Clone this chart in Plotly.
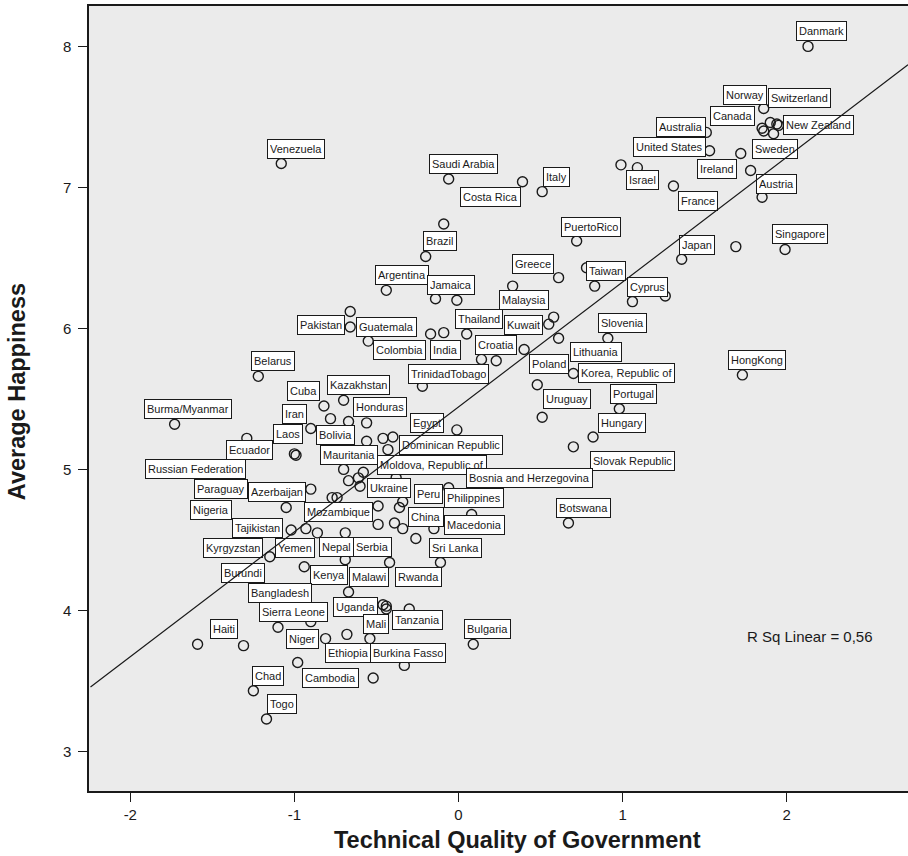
import plotly.graph_objects as go

# ---------------- data ----------------
countries = [
    "Danmark", "Norway", "Switzerland", "Canada", "New Zealand", "Australia",
    "United States", "Sweden", "Ireland", "Austria", "Israel", "France", "Japan",
    "Singapore", "HongKong", "Venezuela", "Saudi Arabia", "Costa Rica", "Italy",
    "Brazil", "PuertoRico", "Greece", "Taiwan", "Argentina", "Jamaica", "Malaysia",
    "Kuwait", "Cyprus", "Thailand", "Colombia", "India", "Slovenia", "Croatia",
    "Lithuania", "Korea, Republic of", "Poland", "Portugal", "Uruguay", "Hungary",
    "Slovak Republic", "Botswana", "Bulgaria", "TrinidadTobago", "Pakistan",
    "Guatemala", "Belarus", "Burma/Myanmar", "Cuba", "Kazakhstan", "Honduras",
    "Iran", "Laos", "Bolivia", "Egypt", "Dominican Republic", "Ecuador",
    "Mauritania", "Moldova, Republic of", "Russian Federation", "Ukraine", "Peru",
    "Philippines", "Bosnia and Herzegovina", "China", "Macedonia", "Sri Lanka",
    "Paraguay", "Azerbaijan", "Nigeria", "Tajikistan", "Mozambique", "Kyrgyzstan",
    "Yemen", "Nepal", "Serbia", "Kenya", "Malawi", "Rwanda", "Burundi",
    "Bangladesh", "Sierra Leone", "Uganda", "Tanzania", "Mali", "Haiti", "Niger",
    "Ethiopia", "Burkina Fasso", "Chad", "Cambodia", "Togo",
]
quality = [
    2.13, 1.86, 1.90, 1.85, 1.95, 1.51,
    1.53, 1.92, 1.72, 1.78, 1.09, 1.31, 1.36,
    1.99, 1.73, -1.08, -0.06, 0.39, 0.51,
    -0.20, 0.72, 0.61, 0.83, -0.44, -0.14, 0.58,
    0.55, 1.06, 0.05, -0.17, -0.09, 0.91, 0.14,
    0.61, 0.70, 0.48, 0.98, 0.51, 0.82,
    0.70, 0.67, 0.09, -0.22, -0.66,
    -0.55, -1.22, -1.73, -0.82, -0.70, -0.56,
    -0.90, -1.00, -0.78, -0.40, -0.01, -1.29,
    -0.70, -0.38, -0.99, -0.49, -0.34,
    -0.06, 0.08, -0.34, -0.15, -0.11,
    -1.05, -0.90, -1.02, -0.93, -0.86, -1.15,
    -0.69, -0.69, -0.42, -0.94, -0.67, -0.26, -1.31,
    -0.90, -1.10, -0.46, -0.30, -0.44, -1.59, -0.81,
    -0.68, -0.33, -1.25, -0.98, -1.17,
]
happiness = [
    8.00, 7.56, 7.46, 7.42, 7.44, 7.39,
    7.26, 7.38, 7.24, 7.12, 7.14, 7.01, 6.49,
    6.56, 5.67, 7.17, 7.06, 7.04, 6.97,
    6.51, 6.62, 6.36, 6.30, 6.27, 6.21, 6.08,
    6.03, 6.19, 5.96, 5.96, 5.97, 5.93, 5.78,
    5.93, 5.68, 5.60, 5.43, 5.37, 5.23,
    5.16, 4.62, 3.76, 5.59, 6.01,
    5.91, 5.66, 5.32, 5.45, 5.49, 5.33,
    5.29, 5.11, 5.36, 5.23, 5.28, 5.22,
    5.00, 4.94, 5.10, 4.74, 4.77,
    4.87, 4.68, 4.58, 4.58, 4.34,
    4.73, 4.86, 4.57, 4.58, 4.55, 4.38,
    4.55, 4.36, 4.34, 4.31, 4.13, 4.51, 3.75,
    3.92, 3.88, 4.04, 4.01, 4.01, 3.76, 3.80,
    3.83, 3.61, 3.43, 3.63, 3.23,
]
# points whose labels are hidden or absent in the picture
other_quality = [
    1.86, 1.94, 1.85, 0.99, 1.69, -0.09, 0.78, 0.33, -0.01, 1.26,
    0.23, 0.40, -0.66, -0.67, -0.56, -0.46, -0.43, -0.58, -0.67, -0.61,
    -0.60, -0.77, -0.74, -0.36, -0.49, -0.39, -0.44, -0.54, -0.52,
]
other_happiness = [
    7.40, 7.45, 6.93, 7.16, 6.58, 6.74, 6.43, 6.30, 6.20, 6.23,
    5.77, 5.85, 6.12, 5.34, 5.20, 5.22, 5.14, 4.98, 4.92, 4.94,
    4.88, 4.80, 4.80, 4.73, 4.61, 4.62, 4.03, 3.80, 3.52,
]

# linear fit as printed on the chart
FIT_INTERCEPT = 5.443
FIT_SLOPE = 0.886
R2_TEXT = "R Sq Linear = 0,56"

x_ticks = [-2, -1, 0, 1, 2]
y_ticks = [3, 4, 5, 6, 7, 8]
x_title = "Technical Quality of Government"
y_title = "Average Happiness"

# ---------------- layout / style ----------------
X_RANGE = [-2.2517, 2.7392]
Y_RANGE = [2.7191, 8.2865]
FONT = "Liberation Sans, Arial, Helvetica, sans-serif"
INK = "#1a1a1a"

# label box offsets (pixels) relative to each point: (x shift of box left, y shift of box bottom)
LABEL_OFFSET = {
    "Danmark": (-12, 5), "Norway": (-41, 3), "Switzerland": (-2, 15),
    "Canada": (-52, 2), "New Zealand": (5, -10), "Australia": (-50, -5),
    "United States": (-77, -6), "Sweden": (-22, -25), "Ireland": (-44, -25),
    "Austria": (5, -24), "Israel": (-11, -22), "France": (5, -25),
    "Japan": (-3, 4), "Singapore": (-13, 5), "HongKong": (-14, 5),
    "Venezuela": (-14, 4), "Saudi Arabia": (-20, 5), "Costa Rica": (-63, -25),
    "Italy": (1, 5), "Brazil": (-3, 5), "PuertoRico": (-16, 4),
    "Greece": (-47, 4), "Taiwan": (-9, 5), "Argentina": (-11, 5),
    "Jamaica": (-9, 4), "Malaysia": (-55, 7), "Kuwait": (-45, -11),
    "Cyprus": (-5, 5), "Thailand": (-12, 5), "Colombia": (-58, -26),
    "India": (-14, -27), "Slovenia": (-10, 5), "Croatia": (-6, 4),
    "Lithuania": (11, -24), "Korea, Republic of": (5, -9), "Poland": (-8, 11),
    "Portugal": (-9, 5), "Uruguay": (1, 8), "Hungary": (5, 4),
    "Slovak Republic": (17, -24), "Botswana": (-12, 5), "Bulgaria": (-9, 5),
    "TrinidadTobago": (-14, 2), "Pakistan": (-53, -8), "Guatemala": (-12, 4),
    "Belarus": (-7, 5), "Burma/Myanmar": (-31, 5), "Cuba": (-37, 5),
    "Kazakhstan": (-17, 5), "Honduras": (-14, 6), "Iran": (-29, 5),
    "Laos": (-21, 10), "Bolivia": (-15, -26), "Egypt": (17, 4),
    "Dominican Republic": (-58, -25), "Ecuador": (-21, -22), "Mauritania": (-24, 4),
    "Moldova, Republic of": (-19, 3), "Russian Federation": (-151, -24),
    "Ukraine": (-11, 8), "Peru": (11, -2), "Philippines": (-5, -20),
    "Bosnia and Herzegovina": (-6, 27), "China": (5, 2), "Macedonia": (10, -6),
    "Sri Lanka": (-11, 4), "Paraguay": (-92, 8), "Azerbaijan": (-63, -13),
    "Nigeria": (-101, 10), "Tajikistan": (-74, -9), "Mozambique": (-13, 11),
    "Kyrgyzstan": (-67, -1), "Yemen": (-70, -25), "Nepal": (-26, 3),
    "Serbia": (-37, 5), "Kenya": (6, -18), "Malawi": (0, 5), "Rwanda": (-21, -49),
    "Burundi": (-23, 63), "Bangladesh": (-63, 19), "Sierra Leone": (-19, 5),
    "Uganda": (-50, -12), "Tanzania": (-17, -21), "Mali": (-23, -25),
    "Haiti": (12, 5), "Niger": (-40, -10), "Ethiopia": (-22, -29),
    "Burkina Fasso": (-34, 2), "Chad": (-1, 5), "Cambodia": (4, -25), "Togo": (0, 5),
}

marker_style = dict(symbol="circle-open", size=10, color=INK, line=dict(width=1.4, color=INK))

fig = go.Figure()
fig.add_trace(go.Scatter(x=other_quality, y=other_happiness, mode="markers",
                         marker=marker_style, hoverinfo="skip", showlegend=False))
fig.add_trace(go.Scatter(x=quality, y=happiness, mode="markers", text=countries,
                         marker=marker_style, showlegend=False))

annotations = []
for name, qx, hy in zip(countries, quality, happiness):
    dx, dy = LABEL_OFFSET.get(name, (-12, 5))
    annotations.append(dict(
        x=qx, y=hy, xref="x", yref="y", text=name, showarrow=False,
        xanchor="left", yanchor="bottom", xshift=dx, yshift=dy,
        font=dict(size=11, family=FONT, color=INK), height=13.5,
        bgcolor="white", bordercolor=INK, borderwidth=1, borderpad=2,
    ))

# regression line drawn on top of the label boxes
x0, x1 = X_RANGE
annotations.append(dict(
    x=x1, y=FIT_INTERCEPT + FIT_SLOPE * x1, ax=x0, ay=FIT_INTERCEPT + FIT_SLOPE * x0,
    xref="x", yref="y", axref="x", ayref="y", text="", showarrow=True,
    arrowhead=0, arrowwidth=1.2, arrowcolor=INK, standoff=0, startstandoff=0,
))

annotations.append(dict(
    x=2.142, y=3.818, xref="x", yref="y", text=R2_TEXT, showarrow=False,
    xanchor="center", yanchor="middle", font=dict(size=15, family=FONT, color=INK),
))
annotations.append(dict(
    x=0.523, y=0, xref="paper", yref="paper", yshift=-49, text="<b>%s</b>" % x_title,
    showarrow=False, xanchor="center", yanchor="middle",
    font=dict(size=23.5, family=FONT, color=INK),
))
annotations.append(dict(
    x=0, y=0.508, xref="paper", yref="paper", xshift=-72, text="<b>%s</b>" % y_title,
    showarrow=False, xanchor="center", yanchor="middle", textangle=-90,
    font=dict(size=23.5, family=FONT, color=INK),
))

fig.update_layout(
    width=908, height=856,
    margin=dict(l=89, r=0, t=6, b=65),
    paper_bgcolor="white", plot_bgcolor="#EBEBEB",
    font=dict(family=FONT, color=INK),
    annotations=annotations,
    showlegend=False,
)
fig.update_xaxes(
    range=X_RANGE, tickvals=x_ticks, ticktext=[str(v) for v in x_ticks],
    ticks="outside", ticklen=9, tickwidth=1.3, tickcolor=INK,
    showline=True, linecolor=INK, linewidth=1.5, mirror=True,
    showgrid=False, zeroline=False, tickfont=dict(size=15, family=FONT, color=INK),
)
fig.update_yaxes(
    range=Y_RANGE, tickvals=y_ticks, ticktext=[str(v) for v in y_ticks],
    ticks="outside", ticklen=9, tickwidth=1.3, tickcolor=INK,
    showline=True, linecolor=INK, linewidth=1.5, mirror=False,
    showgrid=False, zeroline=False, tickfont=dict(size=15, family=FONT, color=INK),
    ticklabelstandoff=4,
)

# the page's default 8px body margin would shift the 908x856 figure out of the window
fig.write_html("out.html", config={"displayModeBar": False},
               post_script="document.body.style.margin='0px';")
